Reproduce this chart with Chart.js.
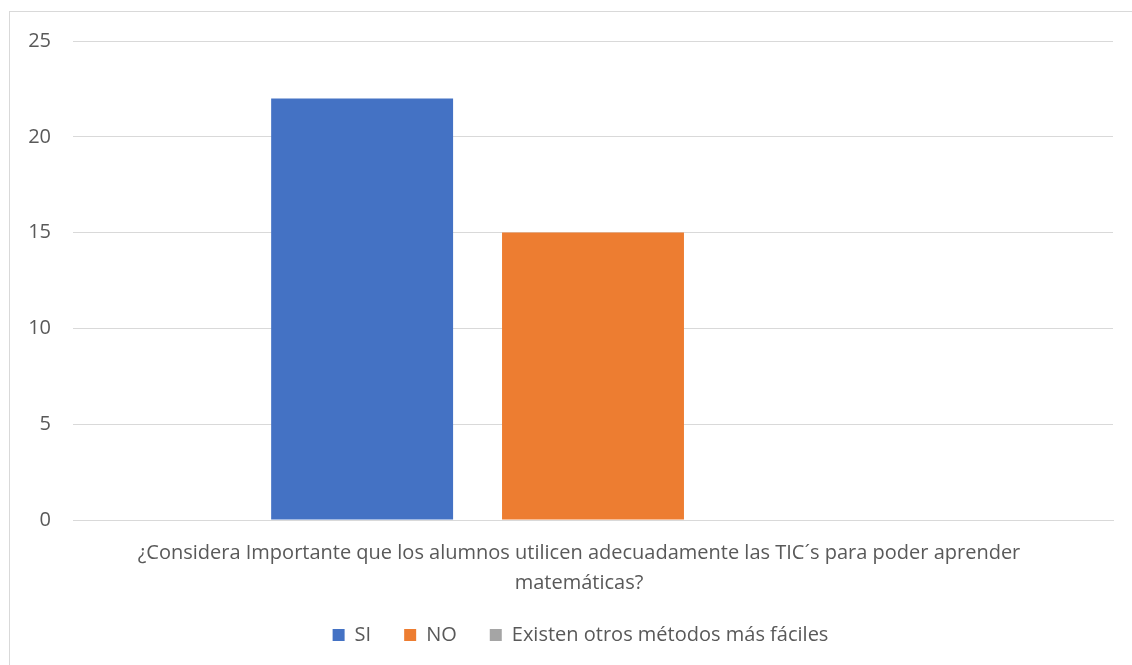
<!DOCTYPE html>
<html>
<head>
<meta charset="utf-8">
<script src="https://cdn.jsdelivr.net/npm/chart.js@4"></script>
<style>
    body { margin: 0; background: #fff; overflow: hidden; }
    #frame { position: absolute; left: 9px; top: 11px; width: 1200px; height: 700px; border: 1px solid #d9d9d9; }
    #wrap { position: absolute; left: 0; top: 0; width: 1132px; height: 665px; }
</style>
</head>
<body>
<div id="frame"></div>
<div id="wrap"><canvas id="grafico"></canvas></div>
<script>
    const categorias = [['¿Considera Importante que los alumnos utilicen adecuadamente las TIC´s para poder aprender', 'matemáticas?']];
    const series = ['SI', 'NO', 'Existen otros métodos más fáciles'];
    const valoresSi = [22];
    const valoresNo = [15];
    const valoresOtros = [0];
    const colores = ['#4472C4', '#ED7D31', '#A5A5A5'];

    const texto = '#595959';
    Chart.defaults.font.family = '"Open Sans", Lato, sans-serif';
    Chart.defaults.font.size = 20;
    Chart.defaults.color = texto;

    // la leyenda de Excel queda centrada un poco a la derecha
    const moverLeyenda = {
        id: 'moverLeyenda',
        afterLayout(chart) {
            chart.legend.left = 48;
        }
    };

    new Chart(document.querySelector('#grafico'), {
        type: 'bar',
        data: {
            labels: categorias,
            datasets: [valoresSi, valoresNo, valoresOtros].map((valores, i) => ({
                label: series[i],
                data: valores,
                backgroundColor: colores[i],
                borderWidth: 0,
                categoryPercentage: 0.666,
                barPercentage: 0.788
            }))
        },
        options: {
            responsive: true,
            maintainAspectRatio: false,
            animation: false,
            layout: {
                padding: { left: 0, right: 19, top: 41, bottom: 10 }
            },
            scales: {
                x: {
                    grid: { display: false, drawTicks: false },
                    border: { color: '#d9d9d9', width: 1 },
                    afterFit: scale => { scale.height = 72; },
                    ticks: { padding: 18, labelOffset: -14, maxRotation: 0, font: { size: 20, lineHeight: 1.5 } }
                },
                y: {
                    min: 0,
                    max: 25,
                    afterFit: scale => { scale.width = 73; },
                    grid: { color: '#d9d9d9', drawTicks: false },
                    border: { display: false },
                    ticks: { stepSize: 5, padding: 22, font: { size: 20 } }
                }
            },
            plugins: {
                legend: {
                    position: 'bottom',
                    labels: {
                        boxWidth: 12,
                        boxHeight: 12,
                        padding: 33,
                        font: { size: 20 }
                    }
                },
                tooltip: { enabled: false }
            }
        },
        plugins: [moverLeyenda]
    });
</script>
</body>
</html>
